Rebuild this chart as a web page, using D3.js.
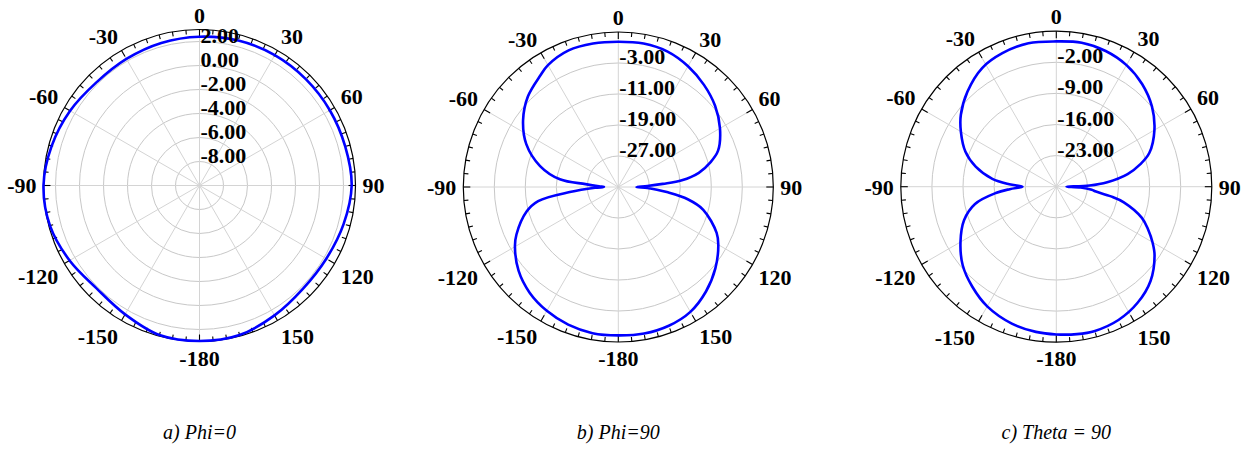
<!DOCTYPE html>
<html>
<head>
<meta charset="utf-8">
<script src="https://cdn.jsdelivr.net/npm/d3@7"></script>
<style>
  body { margin: 0; background: #fff; }
  text { font-family: "Liberation Serif", "Times New Roman", serif; }
</style>
</head>
<body>
<svg id="chart" width="1242" height="451"></svg>
<script>
// angle (deg, clockwise from top) and gain (dB)
const phi0Angles = [-180,-165,-150,-135,-120,-105,-90,-75,-60,-45,-30,-15,0,15,30,45,60,75,90,105,120,135,150,165];
const phi0Gain   = [2.96,2.9,2.4,2.13,2.5,2.9,3.0,2.75,2.45,2.15,2.18,2.3,2.4,2.5,2.54,2.53,2.54,2.57,2.68,2.43,2.2,2.18,2.5,2.9];

const phi90Angles = [-180,-170,-160,-150,-140,-130,-120,-115,-105,-100,-96,-92,-90,-88,-85,-82.5,-75,-65,-55,-45,-35,-30,-20,-10,
                     0,10,20,30,40,50,60,70,75,80,84,86,88,90,92,94,96,100,105,115,120,130,140,150,160,170];
const phi90Gain   = [3.3,3.3,2.8,1.9,0.6,-1.4,-4.2,-6.0,-10.5,-14.0,-22.4,-29,-31.3,-30,-26.5,-19.8,-14.1,-8.8,-5.0,-2.0,0.1,1.3,2.5,2.6,
                     2.5,2.6,2.2,1.0,-0.6,-2.4,-4.7,-7.6,-10.4,-13.9,-18.5,-23.5,-27.5,-30.3,-27.5,-25,-22.4,-16.8,-12.3,-7.0,-5.2,-2.3,0.2,2.2,3.1,3.4];

const theta90Angles = [-180,-172,-162,-150,-140,-130,-120,-110,-102,-96,-93,-90,-87,-83,-76,-69,-60,-53,-43,-32,-22,-11,
                       0,10,20,30,40,50,60,70,75,80,85,88,90,92,95,97,100,103,110,115,120,125,135,145,155,165,172];
const theta90Gain   = [3.25,3.0,2.4,1.1,-0.6,-2.5,-5.1,-7.9,-11.3,-16.3,-19.5,-22.4,-19.4,-15.5,-11.3,-8.1,-5.2,-3.1,-0.7,1.5,2.4,2.9,
                       2.7,2.9,2.5,1.6,0.1,-1.9,-4.5,-7.7,-10.4,-13.7,-18.5,-22.5,-27.7,-24.5,-22,-21,-17.5,-14.4,-9.5,-7.2,-5.0,-3.0,0.0,1.9,3.1,3.6,3.5];

// radial grid rings (dB) and scale limits
const phi0Rings = [-8,-6,-4,-2,0,2];
const phi90Rings = [-27,-19,-11,-3];
const theta90Rings = [-23,-16,-9,-2];
const phi0Range = [-10, 3];
const phi90Range = [-35, 5];
const theta90Range = [-30, 5];

const angleTicks  = [0,30,60,90,120,150,180,210,240,270,300,330];
const angleLabels = ["0","30","60","90","120","150","-180","-150","-120","-90","-60","-30"];
const captions = ["a) Phi=0", "b) Phi=90", "c) Theta = 90"];

const panels = [
  {cx: 199.5, cy: 185.5, R: 156, range: phi0Range, rings: phi0Rings, angles: phi0Angles, gain: phi0Gain, caption: captions[0]},
  {cx: 618.3, cy: 187, R: 155, range: phi90Range, rings: phi90Rings, angles: phi90Angles, gain: phi90Gain, caption: captions[1]},
  {cx: 1056.3, cy: 186.7, R: 155.5, range: theta90Range, rings: theta90Rings, angles: theta90Angles, gain: theta90Gain, caption: captions[2]}
];

const svg = d3.select("#chart");
const rad = d => d * Math.PI / 180;

panels.forEach(p => {
  const g = svg.append("g").attr("transform", `translate(${p.cx},${p.cy})`);
  const r = d3.scaleLinear().domain(p.range).range([0, p.R]);

  // rings
  g.append("g").selectAll("circle")
    .data(p.rings)
    .enter().append("circle")
    .attr("r", d => r(d))
    .attr("fill", "none")
    .attr("stroke", "#c8c8c8")
    .attr("stroke-width", 1);

  // spokes
  g.append("g").selectAll("line")
    .data(angleTicks)
    .enter().append("line")
    .attr("x1", 0).attr("y1", 0)
    .attr("x2", d => p.R * Math.sin(rad(d)))
    .attr("y2", d => -p.R * Math.cos(rad(d)))
    .attr("stroke", "#d4d4d4")
    .attr("stroke-width", 1);

  // outer circle + ticks every 5 degrees
  g.append("circle")
    .attr("r", p.R)
    .attr("fill", "none")
    .attr("stroke", "#000")
    .attr("stroke-width", 1.2);

  g.append("g").selectAll("line")
    .data(d3.range(0, 360, 5))
    .enter().append("line")
    .attr("x1", d => p.R * Math.sin(rad(d)))
    .attr("y1", d => -p.R * Math.cos(rad(d)))
    .attr("x2", d => (p.R - (d % 30 === 0 ? 7 : 4.5)) * Math.sin(rad(d)))
    .attr("y2", d => -(p.R - (d % 30 === 0 ? 7 : 4.5)) * Math.cos(rad(d)))
    .attr("stroke", "#000")
    .attr("stroke-width", 1.1);

  // pattern curve
  const pts = p.angles.map((a, i) => ({a: a, v: p.gain[i]}));
  const line = d3.lineRadial()
    .angle(d => rad(d.a))
    .radius(d => r(d.v))
    .curve(d3.curveCatmullRomClosed.alpha(0.5));

  g.append("path")
    .attr("d", line(pts))
    .attr("fill", "none")
    .attr("stroke", "#0000ff")
    .attr("stroke-width", 2.6);

  // radial labels
  g.append("g").selectAll("text")
    .data(p.rings)
    .enter().append("text")
    .attr("x", 1)
    .attr("y", d => -r(d) + 1)
    .attr("font-size", 22)
    .attr("font-weight", "bold")
    .text(d => d.toFixed(2));

  // angle labels
  const off = p.R + 7;
  g.append("g").selectAll("text")
    .data(angleTicks)
    .enter().append("text")
    .attr("x", d => off * Math.sin(rad(d)))
    .attr("y", d => -off * Math.cos(rad(d)))
    .attr("dy", d => {
      const c = Math.cos(rad(d));
      return c > 0.1 ? "0" : c < -0.1 ? "0.78em" : "0.36em";
    })
    .attr("text-anchor", d => {
      const s = Math.sin(rad(d));
      return s > 0.1 ? "start" : s < -0.1 ? "end" : "middle";
    })
    .attr("font-size", 22)
    .attr("font-weight", "bold")
    .text((d, i) => angleLabels[i]);

  // caption
  svg.append("text")
    .attr("x", p.cx)
    .attr("y", 439)
    .attr("text-anchor", "middle")
    .attr("font-size", 20)
    .attr("font-style", "italic")
    .text(p.caption);
});
</script>
</body>
</html>
